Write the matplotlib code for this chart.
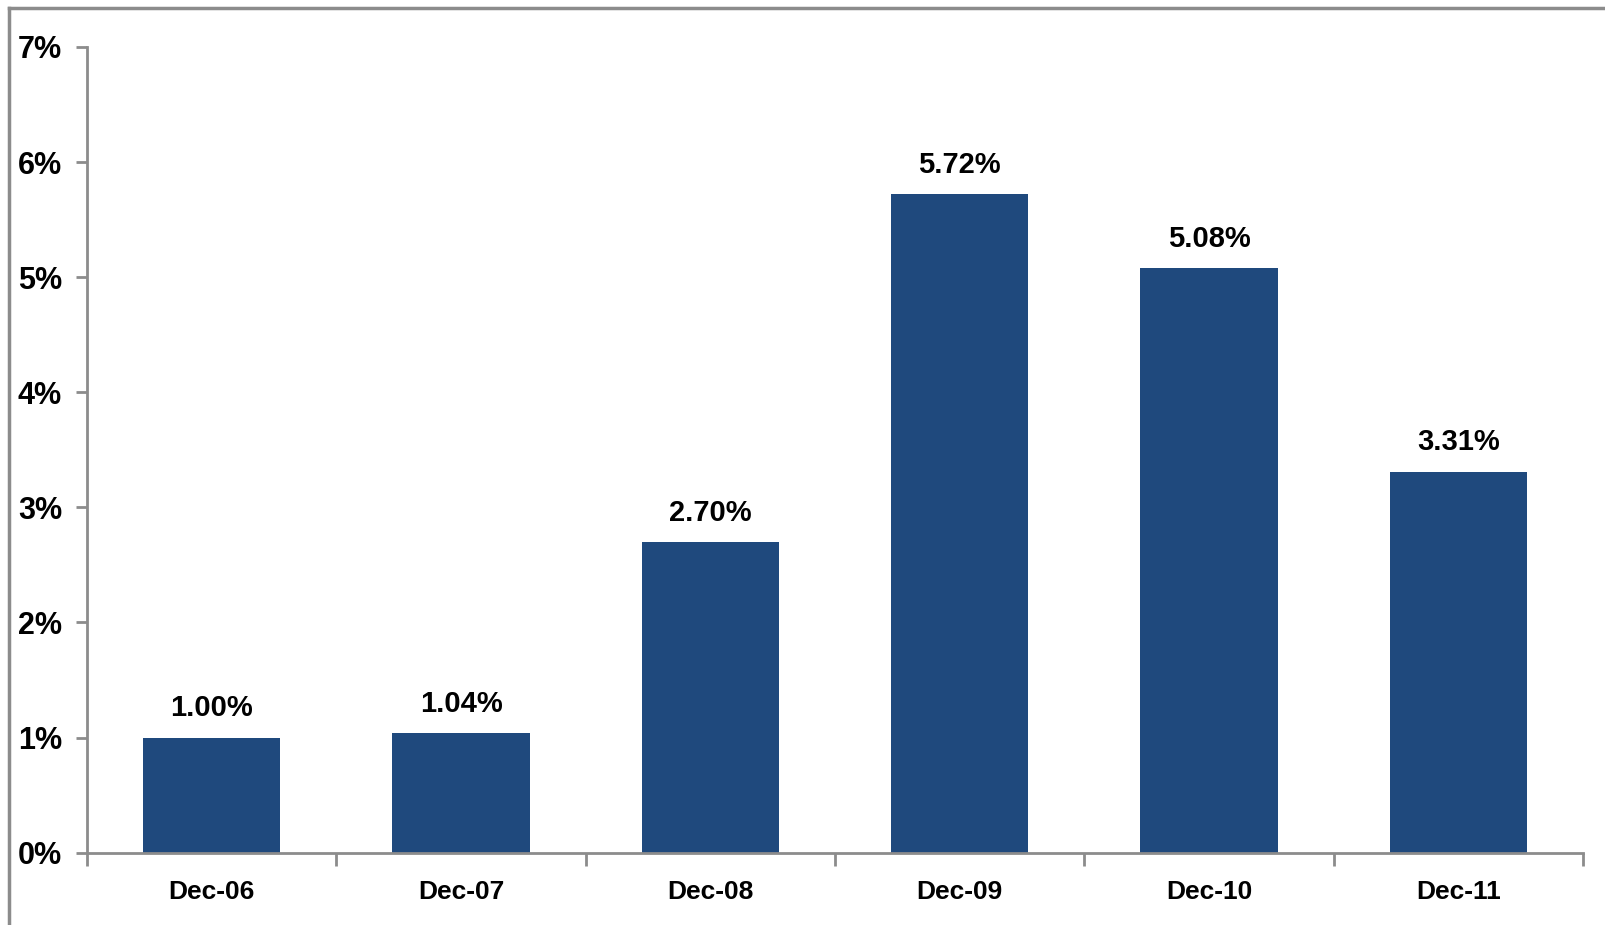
import matplotlib
matplotlib.use("Agg")
import matplotlib.pyplot as plt
from matplotlib.lines import Line2D
from matplotlib.ticker import FuncFormatter, MultipleLocator

categories = ["Dec-06", "Dec-07", "Dec-08", "Dec-09", "Dec-10", "Dec-11"]
values = [1.00, 1.04, 2.70, 5.72, 5.08, 3.31]
value_labels = ["1.00%", "1.04%", "2.70%", "5.72%", "5.08%", "3.31%"]

font = ["Liberation Sans Narrow", "Liberation Sans", "DejaVu Sans"]
plt.rcParams["font.family"] = font
plt.rcParams["font.weight"] = "bold"

fig = plt.figure(figsize=(16.06, 9.25), dpi=100)
ax = fig.add_axes([0.0542, 0.0782, 0.9315, 0.871])

bar_color = "#1F497D"
x = list(range(len(categories)))
bars = ax.bar(x, values, width=0.55, color=bar_color, zorder=2)

ax.set_xlim(-0.5, len(categories) - 0.5)
ax.set_ylim(0, 7)
ax.yaxis.set_major_locator(MultipleLocator(1))
ax.yaxis.set_major_formatter(FuncFormatter(lambda v, p: f"{v:.0f}%"))

ax.set_xticks(x)
ax.set_xticklabels(categories)
ax.set_xticks([i - 0.5 for i in range(len(categories) + 1)], minor=True)

spine_c = "#8C8C8C"
for s in ["top", "right"]:
    ax.spines[s].set_visible(False)
for s in ["left", "bottom"]:
    ax.spines[s].set_color(spine_c)
    ax.spines[s].set_linewidth(2)

ax.tick_params(axis="x", which="major", length=0, pad=20, labelsize=19)
ax.tick_params(axis="x", which="minor", length=9, width=2, color=spine_c)
ax.tick_params(axis="y", which="major", length=8, width=2, color=spine_c, pad=10, labelsize=22)
for lab in ax.get_xticklabels() + ax.get_yticklabels():
    lab.set_fontweight("bold")

for xi, v, lab in zip(x, values, value_labels):
    ax.annotate(lab, (xi, v), xytext=(0, 11), textcoords="offset points",
                ha="center", va="bottom", fontsize=21, fontweight="bold")

# outer border (top and left)
fig.add_artist(Line2D([9/1606, 1.0], [1 - 8/925, 1 - 8/925], transform=fig.transFigure,
                      color="#8C8C8C", linewidth=2.5))
fig.add_artist(Line2D([9/1606, 9/1606], [0, 1 - 8/925], transform=fig.transFigure,
                      color="#8C8C8C", linewidth=2.5))

fig.savefig("out.png", dpi=100)
